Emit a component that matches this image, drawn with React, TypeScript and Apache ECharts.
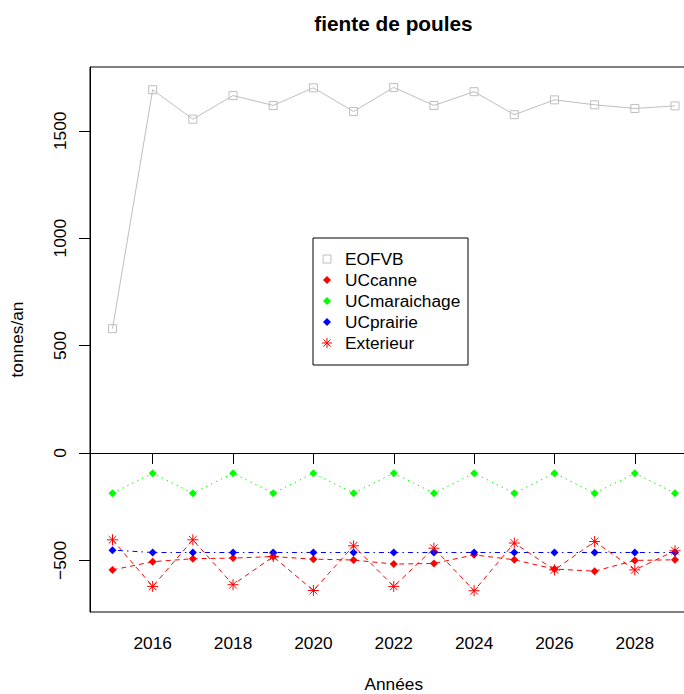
import React, { useEffect, useRef } from "react";
import * as echarts from "echarts";

const years = [2015, 2016, 2017, 2018, 2019, 2020, 2021, 2022, 2023, 2024, 2025, 2026, 2027, 2028, 2029];
const eofvb = [579, 1691, 1554, 1664, 1618, 1700, 1590, 1702, 1618, 1682, 1575, 1644, 1621, 1604, 1616];
const ucCanne = [-544, -506, -492, -489, -482, -494, -498, -517, -514, -474, -497, -540, -550, -500, -497];
const ucMaraichage = [-187, -94, -187, -94, -187, -94, -187, -94, -187, -94, -187, -94, -187, -94, -187];
const ucPrairie = [-452, -463, -463, -463, -463, -463, -463, -463, -463, -463, -463, -463, -463, -463, -463];
const exterieur = [-404, -621, -404, -613, -482, -640, -432, -621, -443, -641, -419, -544, -412, -544, -455];
const xTicks = [2016, 2018, 2020, 2022, 2024, 2026, 2028];
const yTicks = [-500, 0, 500, 1000, 1500];
const legendNames = ["EOFVB", "UCcanne", "UCmaraichage", "UCprairie", "Exterieur"];

const FONT = "'Liberation Sans', Arial, Helvetica, sans-serif";
const FS = 17.3;
const STAR = "path://M5,0V10M0,5H10M1.5,1.5L8.5,8.5M8.5,1.5L1.5,8.5";

const pairs = (vals: number[]) => years.map((y, i) => [y, vals[i]]);

export default function App() {
  const ref = useRef<HTMLDivElement>(null);
  useEffect(() => {
    if (!ref.current) return;
    const chart = echarts.init(ref.current, null, { renderer: "svg" });

    const lx = 313, ly = 238, lw = 155, lh = 127;
    const symX = 327, txtX = 345, row0 = 259, rowGap = 21;
    const legendEls: any[] = [
      { type: "rect", shape: { x: lx, y: ly, width: lw, height: lh }, style: { fill: "#fff", stroke: "#000", lineWidth: 1 }, z: 100 },
    ];
    const diamond = (cx: number, cy: number, color: string) => ({
      type: "polygon",
      shape: { points: [[cx, cy - 4], [cx + 4, cy], [cx, cy + 4], [cx - 4, cy]] },
      style: { fill: color },
      z: 101,
    });
    legendNames.forEach((n, i) => {
      const cy = row0 + i * rowGap;
      legendEls.push({ type: "text", x: txtX, y: cy, style: { text: n, fill: "#000", font: `${FS}px ${FONT}`, textVerticalAlign: "middle", textAlign: "left" }, z: 101 });
    });
    legendEls.push({ type: "rect", shape: { x: symX - 4, y: row0 - 4, width: 8, height: 8 }, style: { fill: "none", stroke: "#bebebe", lineWidth: 1 }, z: 101 });
    legendEls.push(diamond(symX, row0 + rowGap, "#ff0000"));
    legendEls.push(diamond(symX, row0 + 2 * rowGap, "#00ff00"));
    legendEls.push(diamond(symX, row0 + 3 * rowGap, "#0000ff"));
    const sy = row0 + 4 * rowGap;
    const r = 5, d = 3.5;
    [[symX, sy - r, symX, sy + r], [symX - r, sy, symX + r, sy], [symX - d, sy - d, symX + d, sy + d], [symX + d, sy - d, symX - d, sy + d]].forEach((s) => {
      legendEls.push({ type: "line", shape: { x1: s[0], y1: s[1], x2: s[2], y2: s[3] }, style: { stroke: "#ff0000", lineWidth: 1 }, z: 101 });
    });

    chart.setOption({
      animation: false,
      backgroundColor: "#fff",
      textStyle: { fontFamily: FONT },
      title: {
        text: "fiente de poules",
        left: 393.5,
        top: 12.5,
        padding: 0,
        textAlign: "center",
        textStyle: { fontSize: 20.8, fontWeight: "bold", color: "#000", fontFamily: FONT },
      },
      grid: {
        left: 90, top: 67, width: 607.5, height: 545,
        containLabel: false, outerBoundsMode: "none",
        show: true, borderColor: "#000", borderWidth: 1, backgroundColor: "transparent",
      },
      xAxis: {
        type: "value",
        min: 2014.44,
        max: 2029.56,
        name: "Années",
        nameLocation: "middle",
        nameGap: 63,
        nameTextStyle: { fontSize: FS, lineHeight: 18, color: "#000", fontFamily: FONT },
        axisLine: { show: true, lineStyle: { color: "#000", width: 1 } },
        axisTick: { show: true, length: 11, lineStyle: { color: "#000" }, customValues: xTicks },
        axisLabel: { fontSize: FS, color: "#000", margin: 22.4, customValues: xTicks, formatter: (v: number) => String(v), fontFamily: FONT },
        splitLine: { show: false },
      },
      yAxis: {
        type: "value",
        min: -740,
        max: 1797,
        name: "tonnes/an",
        nameLocation: "middle",
        nameGap: 64.4,
        nameTextStyle: { fontSize: FS, color: "#000", fontFamily: FONT },
        axisLine: { show: true, lineStyle: { color: "#000", width: 1 } },
        axisTick: { show: true, length: 11, lineStyle: { color: "#000" }, customValues: yTicks },
        axisLabel: { fontSize: FS, color: "#000", margin: 21.4, rotate: 90, customValues: yTicks, formatter: (v: number) => (v < 0 ? "\u2212" + Math.abs(v) : String(v)), fontFamily: FONT },
        splitLine: { show: false },
      },
      series: [
        {
          name: "EOFVB",
          type: "line",
          data: pairs(eofvb),
          symbol: "rect",
          symbolSize: 8,
          itemStyle: { color: "none", borderColor: "#bebebe", borderWidth: 1 },
          lineStyle: { color: "#bebebe", width: 1, type: "solid" },
          markLine: {
            silent: true,
            symbol: "none",
            label: { show: false },
            lineStyle: { color: "#000", width: 1, type: "solid" },
            data: [{ yAxis: 0 }],
          },
        },
        {
          name: "UCcanne",
          type: "line",
          data: pairs(ucCanne),
          symbol: "diamond",
          symbolSize: 8,
          itemStyle: { color: "#ff0000" },
          lineStyle: { color: "#ff0000", width: 1, type: [5, 4] },
        },
        {
          name: "UCmaraichage",
          type: "line",
          data: pairs(ucMaraichage),
          symbol: "diamond",
          symbolSize: 8,
          itemStyle: { color: "#00ff00" },
          lineStyle: { color: "#00ff00", width: 1, type: [1.5, 4] },
        },
        {
          name: "UCprairie",
          type: "line",
          data: pairs(ucPrairie),
          symbol: "diamond",
          symbolSize: 8,
          itemStyle: { color: "#0000ff" },
          lineStyle: { color: "#0000ff", width: 1, type: [1.5, 4, 5, 4] },
        },
        {
          name: "Exterieur",
          type: "line",
          data: pairs(exterieur),
          symbol: STAR,
          symbolSize: 11,
          itemStyle: { color: "none", borderColor: "#ff0000", borderWidth: 1 },
          lineStyle: { color: "#ff0000", width: 1, type: [5, 4] },
        },
      ],
      graphic: legendEls,
    });
    return () => chart.dispose();
  }, []);
  return <div ref={ref} style={{ position: "absolute", left: 0, top: 0, width: 684, height: 694 }} />;
}
